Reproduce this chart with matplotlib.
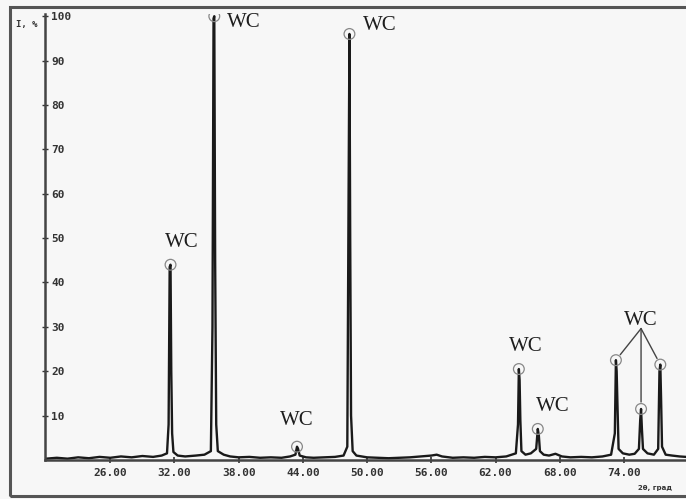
import matplotlib
matplotlib.use("Agg")
import matplotlib.pyplot as plt
from matplotlib.patches import Rectangle

# diffraction pattern: (2theta, I %)
pattern = [
    (20.0, 0.3), (21.0, 0.5), (22.0, 0.3), (23.0, 0.6), (24.0, 0.4), (25.0, 0.7),
    (26.0, 0.5), (27.0, 0.8), (28.0, 0.6), (29.0, 0.9), (30.0, 0.7), (30.8, 1.0),
    (31.3, 1.5), (31.45, 8.0), (31.55, 43.5), (31.63, 44.0), (31.7, 20.0), (31.78, 6.0),
    (31.9, 1.8), (32.3, 1.0), (33.0, 0.8), (34.0, 1.0), (34.8, 1.2), (35.4, 2.0),
    (35.55, 30.0), (35.65, 99.5), (35.72, 100.0), (35.8, 45.0), (35.9, 8.0), (36.05, 2.0),
    (36.6, 1.2), (37.2, 0.8), (38.0, 0.6), (39.0, 0.7), (40.0, 0.5), (41.0, 0.6),
    (42.0, 0.5), (42.8, 0.8), (43.3, 1.2), (43.45, 3.0), (43.55, 2.5), (43.7, 1.0),
    (44.3, 0.6), (45.0, 0.5), (46.0, 0.6), (47.0, 0.7), (47.8, 1.0), (48.15, 3.0),
    (48.27, 60.0), (48.35, 96.0), (48.42, 50.0), (48.5, 10.0), (48.65, 2.0), (49.0, 1.0),
    (50.0, 0.6), (51.0, 0.5), (52.0, 0.4), (53.0, 0.5), (54.0, 0.6), (55.0, 0.8),
    (56.0, 1.0), (56.5, 1.2), (57.0, 0.8), (58.0, 0.5), (59.0, 0.6), (60.0, 0.5),
    (61.0, 0.7), (62.0, 0.6), (63.0, 0.8), (63.9, 1.5), (64.1, 8.0), (64.18, 20.5),
    (64.25, 18.0), (64.32, 9.0), (64.42, 2.0), (64.8, 1.2), (65.3, 1.5), (65.8, 2.5),
    (65.95, 7.0), (66.05, 5.5), (66.15, 2.0), (66.5, 1.2), (67.0, 1.0), (67.6, 1.4),
    (68.2, 0.8), (69.0, 0.6), (70.0, 0.7), (71.0, 0.6), (72.0, 0.8), (72.8, 1.2),
    (73.15, 6.0), (73.25, 22.5), (73.32, 20.0), (73.4, 12.0), (73.5, 2.5), (73.9, 1.5),
    (74.5, 1.2), (75.0, 1.4), (75.4, 2.5), (75.52, 9.0), (75.6, 11.5), (75.68, 7.0),
    (75.78, 2.5), (76.2, 1.5), (76.8, 1.2), (77.2, 2.5), (77.32, 20.0), (77.4, 21.5),
    (77.47, 14.0), (77.56, 3.0), (77.9, 1.2), (78.5, 1.0), (79.2, 0.8), (79.8, 0.7),
]
two_theta = [p[0] for p in pattern]
intensity = [p[1] for p in pattern]

# WC peaks marked with circles
peak_pos = [31.63, 35.72, 43.45, 48.35, 64.18, 65.95, 73.25, 75.6, 77.4]
peak_int = [44.0, 100.0, 3.0, 96.0, 20.5, 7.0, 22.5, 11.5, 21.5]
label = "WC"

x_ticks = [26, 32, 38, 44, 50, 56, 62, 68, 74]
y_ticks = [10, 20, 30, 40, 50, 60, 70, 80, 90, 100]

bg = "#f7f7f7"
fig = plt.figure(figsize=(6.86, 4.99), dpi=100, facecolor=bg)
ax = fig.add_axes([45 / 686, 39 / 499, 641 / 686, 446 / 499])
ax.set_facecolor(bg)

# outer frame
fig.patches.append(Rectangle((10 / 686, 3 / 499), 0.99, 489 / 499, transform=fig.transFigure,
                             fill=False, edgecolor="#555555", linewidth=2.2))

ax.plot(two_theta, intensity, color="#1a1a1a", linewidth=1.7)
ax.scatter(peak_pos, peak_int, s=60, facecolors="none", edgecolors="#888888",
           linewidths=0.9, zorder=3)

ax.set_xlim(19.9, 79.8)
ax.set_ylim(0, 100.5)
for s in ["top", "right"]:
    ax.spines[s].set_visible(False)
for s in ["left", "bottom"]:
    ax.spines[s].set_color("#444444")
    ax.spines[s].set_linewidth(1.8)

tick_font = dict(family="DejaVu Sans Mono", weight="bold", size=8)
ax.set_xticks(x_ticks)
ax.set_xticklabels(["%.2f" % t for t in x_ticks], **tick_font, color="#333333")
ax.set_yticks(y_ticks)
ax.set_yticklabels([str(t) for t in y_ticks], **tick_font, color="#333333")
ax.tick_params(axis="x", direction="inout", length=5, width=1.2, color="#333333", pad=3)
ax.tick_params(axis="y", direction="inout", length=5, width=1.0, color="#333333", pad=-7)
for t in ax.get_yticklabels():
    t.set_horizontalalignment("left")

# WC labels (offsets in pixels from the peak top)
wc_font = dict(family="Liberation Serif", size=15, color="#1e1e1e")
offsets = [(11, 22, "center"), (13, -6, "left"), (0, 26, "center"), (14, 8, "left"),
           (7, 23, "center"), (15, 22, "center")]
for (dx, dy, ha), x, y in zip(offsets, peak_pos[:6], peak_int[:6]):
    ax.annotate(label, xy=(x, y), xytext=(dx, dy), textcoords="offset pixels",
                ha=ha, va="center", **wc_font)

# one label shared by the last three peaks
grp = ax.annotate(label, xy=(peak_pos[7], peak_int[7]), xytext=(0, 88),
                  textcoords="offset pixels", ha="center", va="center", **wc_font)
for x, y in zip(peak_pos[6:], peak_int[6:]):
    ax.annotate("", xy=(x, y), xytext=(0.5, 0.1), xycoords="data", textcoords=grp,
                arrowprops=dict(arrowstyle="-", color="#444444", linewidth=1.0,
                                shrinkA=0, shrinkB=5))

fig.text(27 / 686, 1 - 24 / 499, "I, %", ha="center", va="center",
         family="DejaVu Sans Mono", weight="bold", size=6.5, color="#333333")
fig.text(655 / 686, 1 - 488 / 499, "2θ, град", ha="center", va="center",
         family="DejaVu Sans", weight="bold", size=5, color="#333333")

fig.savefig("out.png", dpi=100, facecolor=bg)
